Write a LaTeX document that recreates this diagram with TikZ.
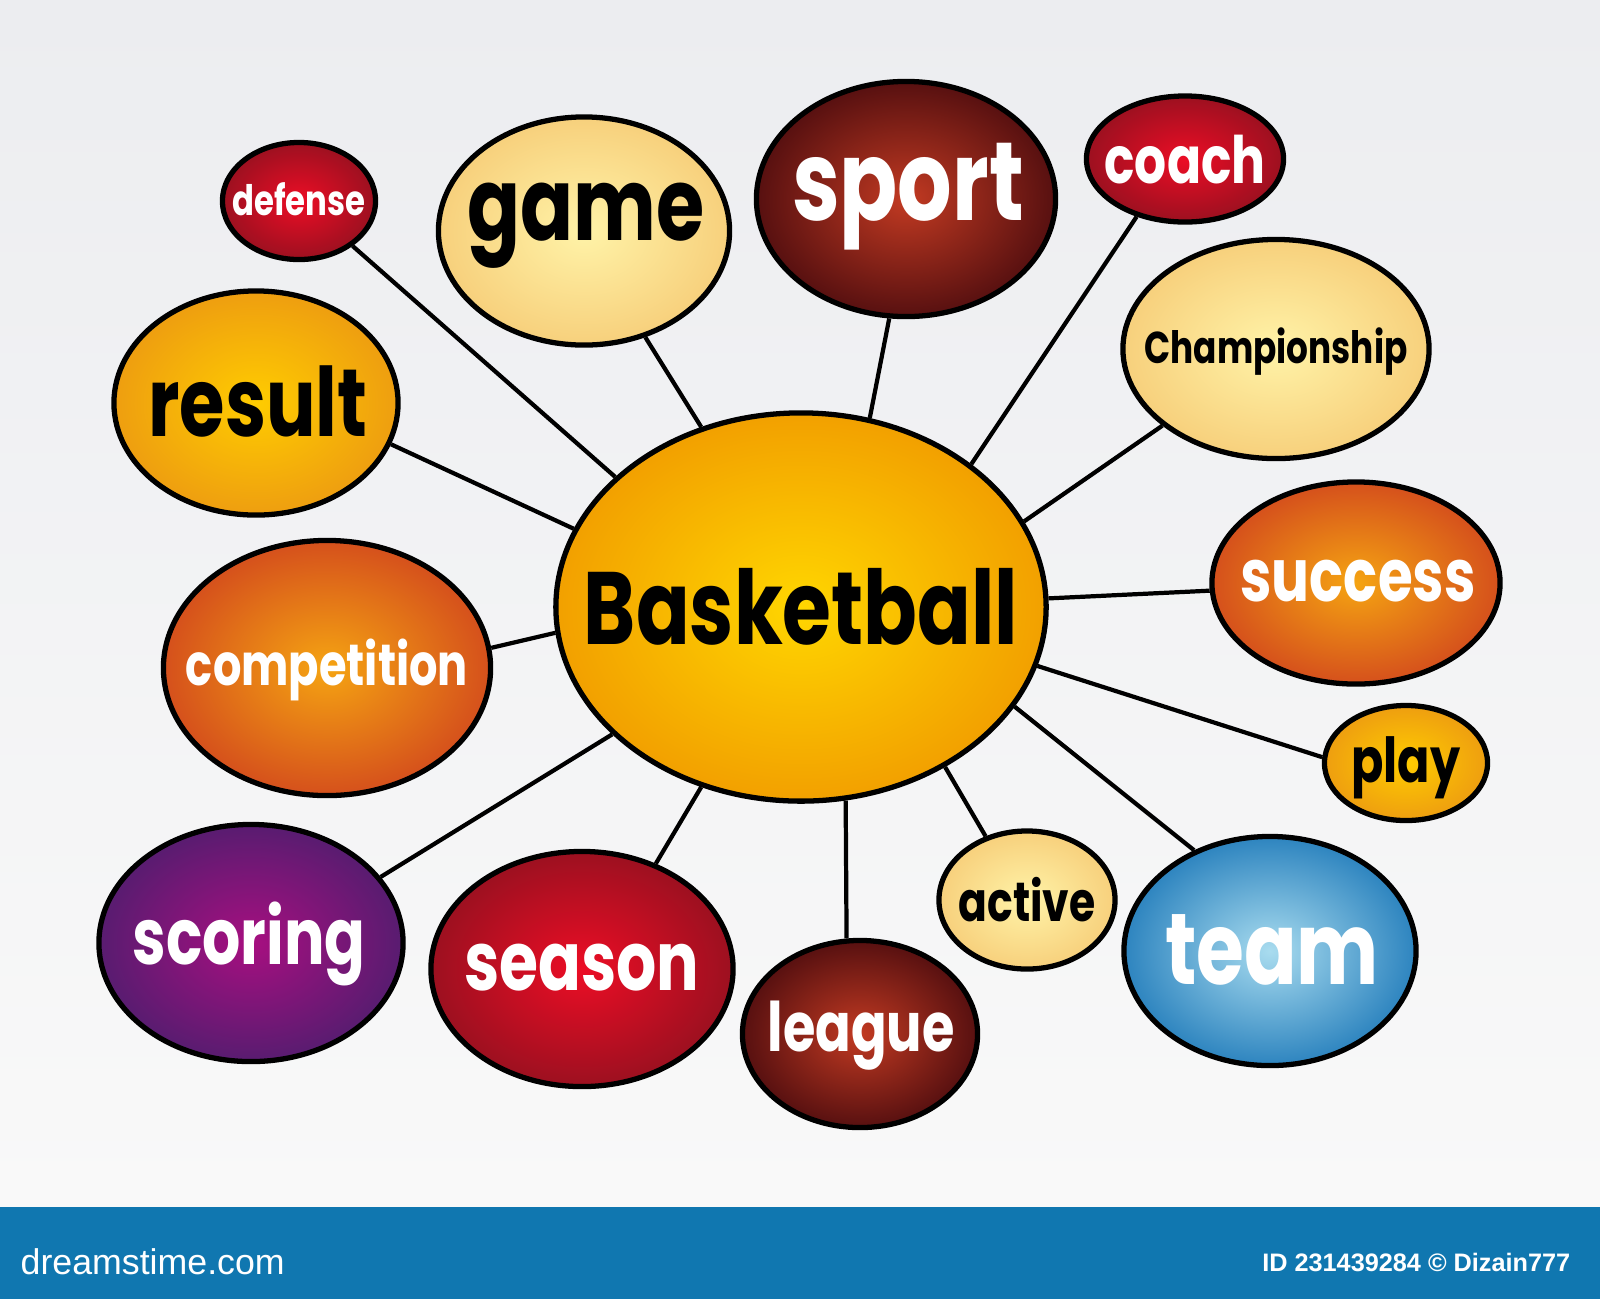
\documentclass[tikz,border=0pt]{standalone}
\usepackage{fontspec}
\setmainfont{Poppins}
\newfontfamily\barfont{Liberation Sans}
\usetikzlibrary{shapes.geometric}
\newdimen\pxu \pxu=0.01cm
\newcommand\wt[2]{\resizebox{#1\pxu}{!}{\scalebox{1}[1.3]{\bfseries #2}}}
\definecolor{bgtop}{HTML}{ECEDF0}
\definecolor{bgbot}{HTML}{F9F9F9}
\definecolor{barblue}{HTML}{1077B0}
\definecolor{ballin}{HTML}{FFD600}
\definecolor{ballout}{HTML}{F2A000}
\definecolor{palein}{HTML}{FFF3A8}
\definecolor{paleout}{HTML}{F7D07C}
\definecolor{ylwin}{HTML}{FFCC00}
\definecolor{ylwout}{HTML}{EE9E10}
\definecolor{orgin}{HTML}{F5A412}
\definecolor{orgout}{HTML}{D5501C}
\definecolor{marin}{HTML}{C23A22}
\definecolor{marout}{HTML}{571010}
\definecolor{redin}{HTML}{EC0D25}
\definecolor{redout}{HTML}{9C1020}
\definecolor{purin}{HTML}{A70F80}
\definecolor{purout}{HTML}{581C70}
\definecolor{bluin}{HTML}{A9DCEF}
\definecolor{bluout}{HTML}{2D84BF}
\tikzset{
  bub/.style={ellipse, draw=black, line width=1.5pt, inner sep=0pt},
  pale/.style={inner color=palein, outer color=paleout},
  ylw/.style={inner color=ylwin, outer color=ylwout},
  org/.style={inner color=orgin, outer color=orgout},
  mar/.style={inner color=marin, outer color=marout},
  rd/.style={inner color=redin, outer color=redout},
  pur/.style={inner color=purin, outer color=purout},
  blu/.style={inner color=bluin, outer color=bluout},
  link/.style={line width=1.2pt, draw=black},
  wlbl/.style={text=white, inner sep=0pt},
  blbl/.style={text=black, inner sep=0pt},
}
\begin{document}
\begin{tikzpicture}[x=0.01cm,y=-0.01cm]
\useasboundingbox (0,0) rectangle (1600,1299);
\shade[top color=bgtop, bottom color=bgbot] (0,0) rectangle (1600,1207);
\fill[barblue] (0,1207) rectangle (1600,1299);

% connectors (drawn first, between node border anchors)
\path (801,607) coordinate (c0);

% bubbles
\node[bub, inner color=ballin, outer color=ballout, minimum width=4.90cm, minimum height=3.88cm] (ball) at (801,607) {};
\node[bub, rd,   minimum width=1.53cm, minimum height=1.17cm] (defense) at (299,201) {};
\node[bub, pale, minimum width=2.91cm, minimum height=2.28cm] (game) at (584,231) {};
\node[bub, mar,  minimum width=2.99cm, minimum height=2.35cm] (sport) at (906,199) {};
\node[bub, rd,   minimum width=1.97cm, minimum height=1.26cm] (coach) at (1185,159) {};
\node[bub, pale, minimum width=3.06cm, minimum height=2.19cm] (champ) at (1276,349) {};
\node[bub, ylw,  minimum width=2.84cm, minimum height=2.24cm] (result) at (256,403) {};
\node[bub, org,  minimum width=2.88cm, minimum height=2.02cm] (success) at (1356,583) {};
\node[bub, org,  minimum width=3.27cm, minimum height=2.55cm] (compet) at (327,668) {};
\node[bub, ylw,  minimum width=1.63cm, minimum height=1.15cm] (play) at (1406,763) {};
\node[bub, pale, minimum width=1.76cm, minimum height=1.38cm] (active) at (1027,900) {};
\node[bub, blu,  minimum width=2.92cm, minimum height=2.29cm] (team) at (1270,951) {};
\node[bub, pur,  minimum width=3.04cm, minimum height=2.37cm] (scoring) at (251,943) {};
\node[bub, rd,   minimum width=3.02cm, minimum height=2.35cm] (season) at (582,969) {};
\node[bub, mar,  minimum width=2.35cm, minimum height=1.87cm] (league) at (860,1034) {};

% connectors
\draw[link] (ball.145.6) -- (defense.-40);
\draw[link] (ball.119) -- (game.-60.5);
\draw[link] (ball.70) -- (sport.262);
\draw[link] (ball.40.8) -- (coach.230);
\draw[link] (ball.21.8) -- (champ.214);
\draw[link] (ball.161.4) -- (result.-17.4);
\draw[link] (ball.186) -- (compet.7.5);
\draw[link] (ball.2.3) -- (success.183);
\draw[link] (ball.-14.6) -- (play.176);
\draw[link] (ball.-25.5) -- (team.127.5);
\draw[link] (ball.-48.7) -- (active.123.7);
\draw[link] (ball.-77) -- (league.98);
\draw[link] (ball.-119.5) -- (season.55);
\draw[link] (ball.-146) -- (scoring.27.4);

% labels
\node[blbl] (ball-t) at (ball) {\wt{434}{Basketball}};
\node[wlbl] (defense-t) at (299,199) {\wt{133}{defense}};
\node[blbl] (game-t) at (586,226) {\wt{237}{game}};
\node[wlbl] (sport-t) at (908,197) {\wt{232}{sport}};
\node[wlbl] (coach-t) at (1185,160) {\wt{161}{coach}};
\node[blbl] (champ-t) at (1276,352) {\wt{263}{Championship}};
\node[blbl] (result-t) at (258,401) {\wt{219}{result}};
\node[wlbl] (success-t) at (1358,581) {\wt{235}{success}};
\node[wlbl] (compet-t) at (327,670) {\wt{282}{competition}};
\node[blbl] (play-t) at (1406,768) {\wt{109}{play}};
\node[blbl] (active-t) at (1027,900) {\wt{137}{active}};
\node[wlbl] (team-t) at (1272,950) {\wt{214}{team}};
\node[wlbl] (scoring-t) at (249,944) {\wt{233}{scoring}};
\node[wlbl] (season-t) at (582,968) {\wt{235}{season}};
\node[wlbl] (league-t) at (861,1036) {\wt{187}{league}};

% bottom bar texts
\node[text=white, anchor=west, inner sep=0pt] (brand) at (20,1262) {\barfont\resizebox{264\pxu}{!}{dreamstime.com}};
\node[text=white, anchor=east, inner sep=0pt] (imgid) at (1571,1262) {\barfont\bfseries\resizebox{308\pxu}{!}{ID 231439284 © Dizain777}};
\end{tikzpicture}
\end{document}
